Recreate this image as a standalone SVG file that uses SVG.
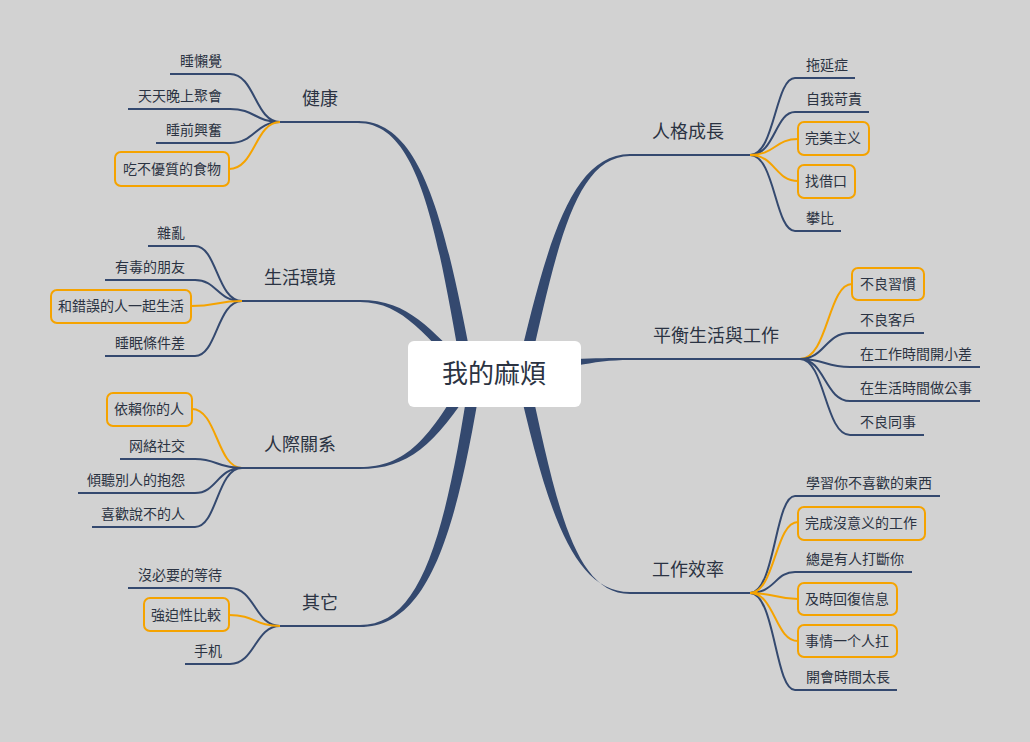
<svg xmlns="http://www.w3.org/2000/svg" width="1030" height="742" viewBox="0 0 1030 742">
<style>
text{font-family:"Liberation Serif","Noto Sans CJK TC",serif;fill:#2b3342}
.lf{font-size:14px}
.br{font-size:18px}
.ln{fill:none;stroke:#34496f;stroke-width:2}
.or{fill:none;stroke:#f5a300;stroke-width:2}
.bx{fill:none;stroke:#f5a300;stroke-width:2}
.mb{fill:#34496f}
</style>
<rect width="1030" height="742" fill="#d2d2d2"/>
<g id="connectors">
<path class="mb" d="M358,121 C422,121 445,220 474,374 L462,374 C436,225 418,123 358,123Z"/>
<path class="mb" d="M360,300 C410,300 430,330 470,368 L470,380 C425,338 405,302 360,302Z"/>
<path class="mb" d="M360,467 C405,467 430,440 468,370 L474,384 C435,445 408,469 360,469Z"/>
<path class="mb" d="M360,625 C420,625 445,540 470,374 L482,374 C455,545 425,627 360,627Z"/>
<path class="mb" d="M630,154 C568,154 545,255 516,374 L528,374 C555,260 572,156 630,156Z"/>
<path class="mb" d="M630,358 C610,358 595,358 575,359 L575,366 C595,362 610,360 630,360Z"/>
<path class="mb" d="M630,592 C570,592 545,500 516,374 L528,374 C555,495 572,594 630,594Z"/>
<path class="ln" d="M280,122H360M240,301H360M240,468H360M280,626H360M630,155H750M630,359H800M630,593H750"/>
<path class="ln" d="M280,122C255,122 255,74 230,74H170M280,122C255,122 255,109 230,109H128M280,122C255,122 255,143 230,143H156"/>
<path class="or" d="M280,122C255,122 255,169 229,169"/>
<path class="ln" d="M242,301C217,301 217,246 195,246H148M242,301C217,301 217,280 195,280H105M242,301C217,301 217,356 195,356H105"/>
<path class="or" d="M242,301C217,301 217,306 191,306"/>
<path class="or" d="M242,468C217,468 217,409 192,409"/>
<path class="ln" d="M242,468C217,468 217,459 195,459H120M242,468C217,468 217,493 195,493H78M242,468C217,468 217,527 195,527H92"/>
<path class="ln" d="M280,626C255,626 255,588 230,588H128M280,626C255,626 255,664 230,664H185"/>
<path class="or" d="M280,626C255,626 255,615 229,615"/>
<path class="ln" d="M750,155C775,155 775,78 795,78H855M750,155C775,155 775,112 795,112H869M750,155C775,155 775,231 795,231H841"/>
<path class="or" d="M750,155C775,155 775,139 798,139M750,155C775,155 775,181 798,181"/>
<path class="or" d="M800,359C828,359 828,284 852,284"/>
<path class="ln" d="M800,359C825,359 825,333 850,333H924M800,359C825,359 825,367 850,367H980M800,359C825,359 825,401 850,401H980M800,359C825,359 825,435 850,435H924"/>
<path class="ln" d="M750,593C775,593 775,496 795,496H940M750,593C775,593 775,572 795,572H912M750,593C775,593 775,690 795,690H897"/>
<path class="or" d="M750,593C775,593 775,522 798,522M750,593C775,593 775,599 798,599M750,593C775,593 775,641 798,641"/>
</g>
<g id="center"><rect x="408" y="341" width="173" height="66" rx="6" fill="#fff"/><text x="494" y="383" font-size="26" text-anchor="middle">我的麻煩</text></g>
<g id="b1"><text class="br" x="320" y="105" text-anchor="middle">健康</text></g>
<g id="b2"><text class="br" x="300" y="284" text-anchor="middle">生活環境</text></g>
<g id="b3"><text class="br" x="300" y="451" text-anchor="middle">人際關系</text></g>
<g id="b4"><text class="br" x="320" y="609" text-anchor="middle">其它</text></g>
<g id="b5"><text class="br" x="688" y="138" text-anchor="middle">人格成長</text></g>
<g id="b6"><text class="br" x="716" y="342" text-anchor="middle">平衡生活與工作</text></g>
<g id="b7"><text class="br" x="688" y="576" text-anchor="middle">工作效率</text></g>
<g id="l1"><text class="lf" x="222" y="66" text-anchor="end">睡懶覺</text></g>
<g id="l2"><text class="lf" x="222" y="101" text-anchor="end">天天晚上聚會</text></g>
<g id="l3"><text class="lf" x="222" y="135" text-anchor="end">睡前興奮</text></g>
<g id="l4"><rect class="bx" x="115" y="152" width="114" height="34" rx="6"/><text class="lf" x="172" y="174" text-anchor="middle">吃不優質的食物</text></g>
<g id="l5"><text class="lf" x="185" y="238" text-anchor="end">雜亂</text></g>
<g id="l6"><text class="lf" x="185" y="272" text-anchor="end">有毒的朋友</text></g>
<g id="l7"><rect class="bx" x="51" y="290" width="140" height="33" rx="6"/><text class="lf" x="121" y="311" text-anchor="middle">和錯誤的人一起生活</text></g>
<g id="l8"><text class="lf" x="185" y="348" text-anchor="end">睡眠條件差</text></g>
<g id="l9"><rect class="bx" x="107" y="393" width="85" height="33" rx="6"/><text class="lf" x="149" y="414" text-anchor="middle">依賴你的人</text></g>
<g id="l10"><text class="lf" x="185" y="451" text-anchor="end">网絡社交</text></g>
<g id="l11"><text class="lf" x="185" y="485" text-anchor="end">傾聽別人的抱怨</text></g>
<g id="l12"><text class="lf" x="185" y="519" text-anchor="end">喜歡說不的人</text></g>
<g id="l13"><text class="lf" x="222" y="580" text-anchor="end">沒必要的等待</text></g>
<g id="l14"><rect class="bx" x="144" y="598" width="85" height="33" rx="6"/><text class="lf" x="186" y="620" text-anchor="middle">強迫性比較</text></g>
<g id="l15"><text class="lf" x="222" y="656" text-anchor="end">手机</text></g>
<g id="r1"><text class="lf" x="806" y="70">拖延症</text></g>
<g id="r2"><text class="lf" x="806" y="104">自我苛責</text></g>
<g id="r3"><rect class="bx" x="798" y="122" width="71" height="33" rx="6"/><text class="lf" x="833" y="143" text-anchor="middle">完美主义</text></g>
<g id="r4"><rect class="bx" x="798" y="165" width="57" height="33" rx="6"/><text class="lf" x="826" y="186" text-anchor="middle">找借口</text></g>
<g id="r5"><text class="lf" x="806" y="223">攀比</text></g>
<g id="r6"><rect class="bx" x="852" y="268" width="72" height="32" rx="6"/><text class="lf" x="888" y="289" text-anchor="middle">不良習慣</text></g>
<g id="r7"><text class="lf" x="860" y="325">不良客戶</text></g>
<g id="r8"><text class="lf" x="860" y="359">在工作時間開小差</text></g>
<g id="r9"><text class="lf" x="860" y="393">在生活時間做公事</text></g>
<g id="r10"><text class="lf" x="860" y="427">不良同事</text></g>
<g id="r11"><text class="lf" x="806" y="488">學習你不喜歡的東西</text></g>
<g id="r12"><rect class="bx" x="798" y="507" width="127" height="33" rx="6"/><text class="lf" x="861" y="528" text-anchor="middle">完成沒意义的工作</text></g>
<g id="r13"><text class="lf" x="806" y="564">總是有人打斷你</text></g>
<g id="r14"><rect class="bx" x="798" y="583" width="99" height="32" rx="6"/><text class="lf" x="847" y="604" text-anchor="middle">及時回復信息</text></g>
<g id="r15"><rect class="bx" x="798" y="625" width="99" height="32" rx="6"/><text class="lf" x="847" y="646" text-anchor="middle">事情一个人扛</text></g>
<g id="r16"><text class="lf" x="806" y="682">開會時間太長</text></g>
</svg>
